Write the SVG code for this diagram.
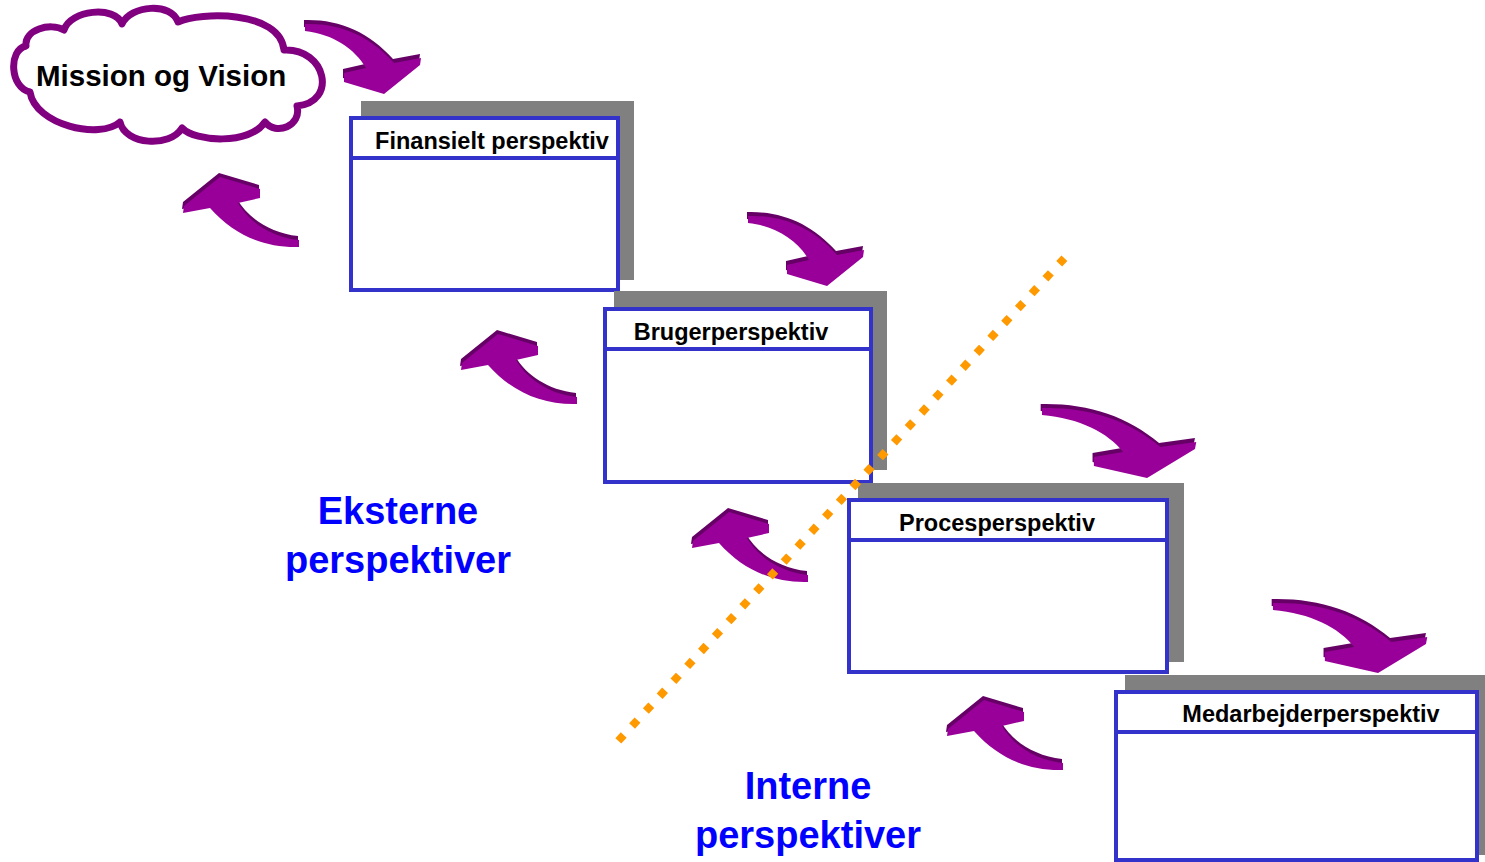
<svg xmlns="http://www.w3.org/2000/svg" xmlns:xlink="http://www.w3.org/1999/xlink" width="1485" height="862" viewBox="0 0 1485 862">
<style>
.shadow{fill:#808080;}
.box{fill:#ffffff;stroke:#3333cc;stroke-width:4;}
.hdr{stroke:#3333cc;stroke-width:4;}
.title{font-family:"Liberation Sans",Arial,sans-serif;font-weight:bold;font-size:23.5px;fill:#000;text-anchor:middle;}
.big{font-family:"Liberation Sans",Arial,sans-serif;font-weight:bold;font-size:38px;fill:#0000ff;text-anchor:middle;}
.dark{fill:#660066;}
.main{fill:#990099;}
</style>
<defs>
<path id="arr" d="M0,0 C35,-1 65,12 89,39 L116,34 L115,41 L79,70 L39,58 L39,49 L61,44 C50,25 28,10 0,7 Z"/>
</defs>
<rect width="1485" height="862" fill="#ffffff"/>

<g id="cloud">
<path d="M30,92 C10,88 8,50 26,46 C24,30 50,22 64,30 C70,10 115,5 122,24 C130,5 172,2 178,22 C200,12 280,10 284,50 C326,48 338,102 297,106 C302,126 276,136 265,122 C250,145 195,142 182,128 C170,148 125,145 120,122 C100,140 35,125 30,92 Z" fill="#ffffff" stroke="#800080" stroke-width="7" stroke-linejoin="round"/>
<text x="36" y="86" font-family="Liberation Sans,Arial,sans-serif" font-weight="bold" font-size="29.5" fill="#000">Mission og Vision</text>
</g>

<g id="finansielt">
<rect class="shadow" x="361" y="101" width="273" height="179"/>
<rect class="box" x="351" y="118" width="267" height="172"/>
<line class="hdr" x1="351" y1="158" x2="618" y2="158"/>
<text class="title" x="492" y="149">Finansielt perspektiv</text>
</g>

<g id="bruger">
<rect class="shadow" x="614" y="291" width="273" height="179"/>
<rect class="box" x="605" y="309" width="266" height="173"/>
<line class="hdr" x1="605" y1="349" x2="871" y2="349"/>
<text class="title" x="731" y="340">Brugerperspektiv</text>
</g>

<g id="proces">
<rect class="shadow" x="858" y="483" width="326" height="179"/>
<rect class="box" x="849" y="500" width="318" height="172"/>
<line class="hdr" x1="849" y1="540" x2="1167" y2="540"/>
<text class="title" x="997" y="531">Procesperspektiv</text>
</g>

<g id="medarbejder">
<rect class="shadow" x="1125" y="675" width="360" height="180"/>
<rect class="box" x="1116" y="692" width="361" height="168"/>
<line class="hdr" x1="1116" y1="732" x2="1477" y2="732"/>
<text class="title" x="1311" y="722">Medarbejderperspektiv</text>
</g>

<g id="eksterne">
<text class="big" x="398" y="524">Eksterne</text>
<text class="big" x="398" y="573">perspektiver</text>
</g>
<g id="interne">
<text class="big" x="808" y="799">Interne</text>
<text class="big" x="808" y="848">perspektiver</text>
</g>

<g id="connectors">
<g transform="translate(305,24)"><use xlink:href="#arr" href="#arr" class="dark" transform="translate(-1,-4)"/><use xlink:href="#arr" href="#arr" class="main"/></g>
<g transform="translate(748,216)"><use xlink:href="#arr" href="#arr" class="dark" transform="translate(-1,-4)"/><use xlink:href="#arr" href="#arr" class="main"/></g>
<g transform="translate(1042,408) scale(1.33,1)"><use xlink:href="#arr" href="#arr" class="dark" transform="translate(-1,-4)"/><use xlink:href="#arr" href="#arr" class="main"/></g>
<g transform="translate(1273,603) scale(1.33,1)"><use xlink:href="#arr" href="#arr" class="dark" transform="translate(-1,-4)"/><use xlink:href="#arr" href="#arr" class="main"/></g>

<g transform="translate(299,247) rotate(180)"><use xlink:href="#arr" href="#arr" class="dark" transform="translate(1,4)"/><use xlink:href="#arr" href="#arr" class="main"/></g>
<g transform="translate(577,404) rotate(180)"><use xlink:href="#arr" href="#arr" class="dark" transform="translate(1,4)"/><use xlink:href="#arr" href="#arr" class="main"/></g>
<g transform="translate(808,582) rotate(180)"><use xlink:href="#arr" href="#arr" class="dark" transform="translate(1,4)"/><use xlink:href="#arr" href="#arr" class="main"/></g>
<g transform="translate(1063,770) rotate(180)"><use xlink:href="#arr" href="#arr" class="dark" transform="translate(1,4)"/><use xlink:href="#arr" href="#arr" class="main"/></g>
</g>

<g id="divider">
<line x1="618.3" y1="740.9" x2="1064.4" y2="258.2" stroke="#ff9900" stroke-width="8" stroke-dasharray="8 12.3"/>
</g>
</svg>
